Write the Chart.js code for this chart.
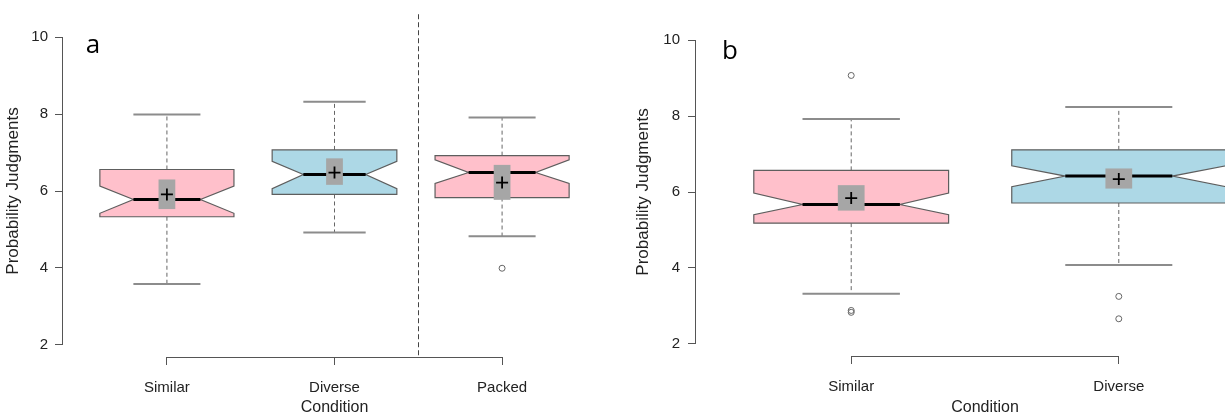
<!DOCTYPE html>
<html>
<head>
<meta charset="utf-8">
<script src="https://cdn.jsdelivr.net/npm/chart.js@4.4.1/dist/chart.umd.min.js"></script>
<style>
html, body { margin: 0; padding: 0; background: #fff; overflow: hidden; }
#wrap { position: relative; width: 1225px; height: 416px; overflow: hidden; }
#panelA { position: absolute; left: 0; top: 0; }
#panelB { position: absolute; left: 620px; top: 0; }
</style>
</head>
<body>
<div id="wrap">
  <canvas id="panelA" width="615" height="416"></canvas>
  <canvas id="panelB" width="700" height="416"></canvas>
</div>
<script>
Chart.defaults.font.family = "'Liberation Sans', Arial, sans-serif";
Chart.defaults.color = '#222';

// panel a
const catsA = ['Similar', 'Diverse', 'Packed'];
const minA = [3.58, 4.92, 4.82];
const q1A = [5.33, 5.91, 5.83];
const medA = [5.78, 6.43, 6.48];
const q3A = [6.56, 7.07, 6.92];
const maxA = [7.99, 8.32, 7.91];
const notchLoA = [5.42, 6.06, 6.20];
const notchHiA = [6.13, 6.77, 6.81];
const meanA = [5.91, 6.48, 6.22];
const meanLoA = [5.53, 6.16, 5.77];
const meanHiA = [6.30, 6.85, 6.68];
const outA = [[], [], [3.99]];

// panel b
const catsB = ['Similar', 'Diverse'];
const minB = [3.32, 4.08];
const q1B = [5.18, 5.71];
const medB = [5.67, 6.42];
const q3B = [6.57, 7.11];
const maxB = [7.92, 8.24];
const notchLoB = [5.40, 6.14];
const notchHiB = [5.97, 6.69];
const meanB = [5.84, 6.34];
const meanLoB = [5.51, 6.09];
const meanHiB = [6.18, 6.62];
const outB = [[9.07, 2.88, 2.83], [3.25, 2.66]];

const yTicks = [2, 4, 6, 8, 10];

const pink = '#FFC0CB';
const blue = '#ADD8E6';

function drawBoxes(chart, p) {
  const ctx = chart.ctx, xs = chart.scales.x, ys = chart.scales.y;
  const y = v => ys.getPixelForValue(v);
  ctx.save();
  for (let i = 0; i < p.cats.length; i++) {
    const cx = xs.getPixelForValue(i + 1);
    const hw = xs.getPixelForValue(i + 1 + 0.4 * p.widths[i]) - cx;

    // whiskers
    ctx.setLineDash([4, 3]);
    ctx.strokeStyle = '#666';
    ctx.lineWidth = 1;
    ctx.beginPath();
    ctx.moveTo(cx, y(p.q3[i])); ctx.lineTo(cx, y(p.max[i]));
    ctx.moveTo(cx, y(p.q1[i])); ctx.lineTo(cx, y(p.min[i]));
    ctx.stroke();
    ctx.setLineDash([]);

    // staples
    ctx.strokeStyle = '#8c8c8c';
    ctx.lineWidth = 2;
    ctx.beginPath();
    ctx.moveTo(cx - hw / 2, y(p.max[i])); ctx.lineTo(cx + hw / 2, y(p.max[i]));
    ctx.moveTo(cx - hw / 2, y(p.min[i])); ctx.lineTo(cx + hw / 2, y(p.min[i]));
    ctx.stroke();

    // notched box
    ctx.beginPath();
    ctx.moveTo(cx - hw, y(p.q1[i]));
    ctx.lineTo(cx - hw, y(p.nlo[i]));
    ctx.lineTo(cx - hw / 2, y(p.med[i]));
    ctx.lineTo(cx - hw, y(p.nhi[i]));
    ctx.lineTo(cx - hw, y(p.q3[i]));
    ctx.lineTo(cx + hw, y(p.q3[i]));
    ctx.lineTo(cx + hw, y(p.nhi[i]));
    ctx.lineTo(cx + hw / 2, y(p.med[i]));
    ctx.lineTo(cx + hw, y(p.nlo[i]));
    ctx.lineTo(cx + hw, y(p.q1[i]));
    ctx.closePath();
    ctx.fillStyle = p.colors[i];
    ctx.fill();
    ctx.strokeStyle = '#5e5e5e';
    ctx.lineWidth = 1.2;
    ctx.stroke();

    // median
    ctx.strokeStyle = '#000';
    ctx.lineWidth = 3;
    ctx.beginPath();
    ctx.moveTo(cx - hw / 2, y(p.med[i])); ctx.lineTo(cx + hw / 2, y(p.med[i]));
    ctx.stroke();

    // band around the mean
    const mw = xs.getPixelForValue(i + 1.05) - cx;
    ctx.fillStyle = '#a6a6a6';
    ctx.fillRect(cx - mw, y(p.meanHi[i]), 2 * mw, y(p.meanLo[i]) - y(p.meanHi[i]));
  }
  ctx.restore();
}

function drawFrame(chart, p) {
  const ctx = chart.ctx, xs = chart.scales.x, ys = chart.scales.y;
  const area = chart.chartArea;
  ctx.save();
  ctx.strokeStyle = '#555';
  ctx.lineWidth = 1;
  ctx.beginPath();
  const lx = Math.round(area.left) - 0.5;
  ctx.moveTo(lx, ys.getPixelForValue(yTicks[0]));
  ctx.lineTo(lx, ys.getPixelForValue(yTicks[yTicks.length - 1]));
  const by = Math.round(area.bottom) + 0.5;
  ctx.moveTo(xs.getPixelForValue(1), by);
  ctx.lineTo(xs.getPixelForValue(p.cats.length), by);
  ctx.stroke();

  if (p.divider) {
    const dx = Math.round(xs.getPixelForValue(p.divider)) + 0.5;
    ctx.strokeStyle = '#444';
    ctx.setLineDash([5, 3]);
    ctx.beginPath();
    ctx.moveTo(dx, ys.getPixelForValue(10.6));
    ctx.lineTo(dx, area.bottom);
    ctx.stroke();
    ctx.setLineDash([]);
  }

  ctx.fillStyle = '#000';
  ctx.font = "26px 'Open Sans', sans-serif";
  ctx.textAlign = 'center';
  ctx.textBaseline = 'alphabetic';
  ctx.fillText(p.letter, area.left + p.letterX, p.letterY);
  ctx.restore();
}

function panel(id, p) {
  const meanPts = p.mean.map((v, i) => ({x: i + 1, y: v}));
  const outPts = [];
  p.out.forEach((list, i) => list.forEach(v => outPts.push({x: i + 1, y: v})));

  return new Chart(document.getElementById(id), {
    type: 'scatter',
    data: {
      datasets: [{
        data: meanPts,
        pointStyle: 'cross',
        pointRadius: 6,
        pointBorderColor: '#000',
        pointBorderWidth: 1.8
      }, {
        data: outPts,
        pointStyle: 'circle',
        pointRadius: 3,
        pointBackgroundColor: 'rgba(0,0,0,0)',
        pointBorderColor: '#666',
        pointBorderWidth: 1
      }]
    },
    options: {
      responsive: false,
      animation: false,
      events: [],
      layout: { padding: { left: 0, right: p.padRight, top: p.padTop, bottom: 0 } },
      plugins: { legend: { display: false }, tooltip: { enabled: false } },
      scales: {
        x: {
          type: 'linear',
          min: p.xMin,
          max: p.xMax,
          afterBuildTicks: s => { s.ticks = p.cats.map((c, i) => ({value: i + 1})); },
          afterFit: s => { s.height = p.xHeight; },
          ticks: {
            autoSkip: false,
            maxRotation: 0,
            padding: 14,
            font: { size: 15 },
            color: '#222',
            callback: v => p.cats[v - 1]
          },
          grid: { drawOnChartArea: false, drawTicks: true, tickLength: 8, color: '#555' },
          border: { display: false },
          title: {
            display: true,
            text: 'Condition',
            font: { size: 16, lineHeight: 1 },
            color: '#222',
            padding: { top: 0, bottom: 0 }
          }
        },
        y: {
          type: 'linear',
          min: 1.68,
          max: 10.32,
          afterBuildTicks: s => { s.ticks = yTicks.map(v => ({value: v})); },
          afterFit: s => { s.width = p.yWidth; },
          ticks: { padding: p.yTickPad, font: { size: 15 }, color: '#222' },
          grid: { drawOnChartArea: false, drawTicks: true, tickLength: 8, color: '#555' },
          border: { display: false },
          title: {
            display: true,
            text: 'Probability Judgments',
            font: { size: 17 },
            color: '#222',
            padding: { top: p.yTitlePad, bottom: 0 }
          }
        }
      }
    },
    plugins: [{
      id: 'boxes',
      beforeDatasetsDraw: chart => drawBoxes(chart, p),
      afterDraw: chart => drawFrame(chart, p)
    }]
  });
}

panel('panelA', {
  cats: catsA, min: minA, q1: q1A, med: medA, q3: q3A, max: maxA,
  nlo: notchLoA, nhi: notchHiA, mean: meanA, meanLo: meanLoA, meanHi: meanHiA, out: outA,
  colors: [pink, blue, pink],
  widths: [1, 0.93, 1],
  xMin: 0.38, xMax: 3.62,
  padRight: 9, padTop: 25, xHeight: 59, yWidth: 63,
  yTickPad: 7, yTitlePad: 3,
  divider: 2.5,
  letter: 'a', letterX: 30, letterY: 53
});

panel('panelB', {
  cats: catsB, min: minB, q1: q1B, med: medB, q3: q3B, max: maxB,
  nlo: notchLoB, nhi: notchHiB, mean: meanB, meanLo: meanLoB, meanHi: meanHiB, out: outB,
  colors: [pink, blue],
  widths: [0.91, 1],
  xMin: 0.42, xMax: 2.58,
  padRight: 46, padTop: 28, xHeight: 60, yWidth: 76,
  yTickPad: 8, yTitlePad: 13,
  divider: null,
  letter: 'b', letterX: 34, letterY: 59
});
</script>
</body>
</html>
